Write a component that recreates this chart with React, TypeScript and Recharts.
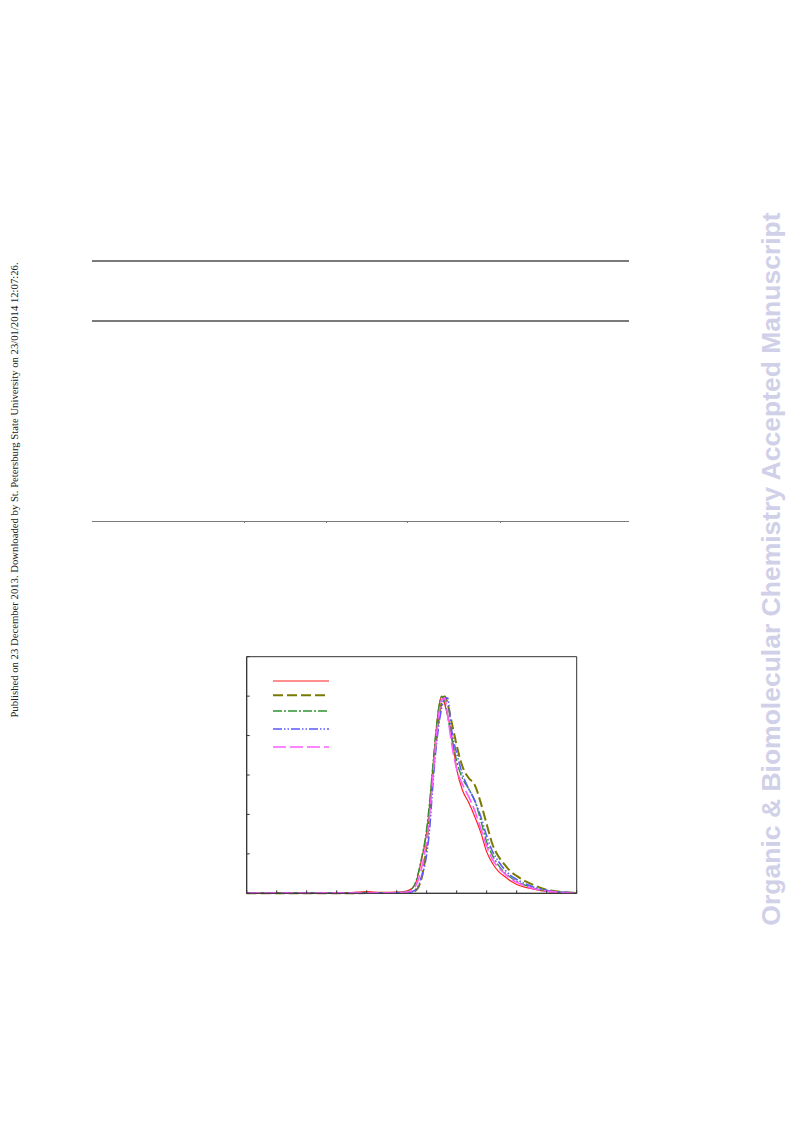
import React from "react";
import {
  LineChart, Line, XAxis, YAxis, ReferenceArea, Legend,
} from "recharts";

// elution volume grid (arbitrary units, axis labels were stripped in the scan)
const xs = [
  0, 0.5, 1, 1.5, 2, 2.5, 3, 3.5, 4, 4.5, 5,
  5.2, 5.4, 5.6, 5.8,
  6.0, 6.1, 6.2, 6.3, 6.4, 6.5, 6.6, 6.7, 6.8, 6.9, 7.0,
  7.2, 7.4, 7.6, 7.8, 8.0, 8.2, 8.4, 8.6, 8.8, 9.0,
  9.3, 9.6, 10, 10.5, 11,
];

const red = [
  0, 0, 0.002, 0, 0.002, 0, 0.003, 0.004, 0.008, 0.005, 0.006,
  0.008, 0.015, 0.04, 0.15,
  0.31, 0.44, 0.62, 0.8, 0.94, 0.998, 0.96, 0.9, 0.83, 0.73, 0.63,
  0.52, 0.46, 0.39, 0.31, 0.21, 0.15, 0.11, 0.085, 0.062, 0.045,
  0.03, 0.02, 0.01, 0.004, 0,
];

const olive = [
  0, 0, 0, 0, 0, 0, 0, 0, 0.001, 0.001, 0.002,
  0.002, 0.003, 0.01, 0.06,
  0.25, 0.43, 0.6, 0.75, 0.88, 0.97, 1.0, 0.96, 0.89, 0.82, 0.75,
  0.64, 0.585, 0.55, 0.46, 0.35, 0.245, 0.185, 0.145, 0.11, 0.088,
  0.06, 0.04, 0.018, 0.007, 0.002,
];

const green = [
  0.001, 0.002, 0.001, 0.001, 0.002, 0.001, 0.002, 0.002, 0.003, 0.003, 0.004,
  0.006, 0.012, 0.045, 0.16,
  0.33, 0.47, 0.64, 0.81, 0.94, 1.0, 0.97, 0.9, 0.81, 0.74, 0.67,
  0.58, 0.53, 0.47, 0.37, 0.26, 0.19, 0.14, 0.105, 0.08, 0.06,
  0.04, 0.025, 0.012, 0.005, 0.001,
];

const blue = [
  0, 0, 0, 0, 0, 0, 0, 0.001, 0.001, 0.002, 0.002,
  0.003, 0.004, 0.015, 0.07,
  0.2, 0.33, 0.54, 0.72, 0.85, 0.94, 0.99, 0.99, 0.86, 0.77, 0.71,
  0.6, 0.53, 0.47, 0.39, 0.29, 0.21, 0.16, 0.12, 0.09, 0.07,
  0.047, 0.03, 0.015, 0.006, 0.002,
];

const magenta = [
  0.001, 0.001, 0.002, 0.001, 0.001, 0.002, 0.002, 0.002, 0.002, 0.003, 0.003,
  0.005, 0.008, 0.03, 0.11,
  0.27, 0.4, 0.58, 0.76, 0.9, 0.98, 0.99, 0.9, 0.79, 0.7, 0.63,
  0.55, 0.49, 0.42, 0.33, 0.24, 0.17, 0.13, 0.1, 0.075, 0.056,
  0.037, 0.022, 0.011, 0.004, 0,
];

const xTicks = [0, 1, 2, 3, 4, 5, 6, 7, 8, 9, 10, 11];
const yTicks = [0, 0.2, 0.4, 0.6, 0.8, 1.0, 1.2];

const data = xs.map((x, i) => ({
  x,
  red: red[i],
  olive: olive[i],
  green: green[i],
  blue: blue[i],
  magenta: magenta[i],
}));

const series = [
  { key: "red", color: "#ff2020", width: 1.2, dash: undefined },
  { key: "olive", color: "#7a7a00", width: 2, dash: "10 4" },
  { key: "green", color: "#2f922f", width: 1.4, dash: "9 2 2 2" },
  { key: "blue", color: "#5a5aff", width: 1.6, dash: "9 2 1.5 2 1.5 2" },
  { key: "magenta", color: "#ff5cff", width: 1.6, dash: "13 4" },
];

// legend swatch rows (px from legend top)
const legendRows = [4, 18.3, 34, 52, 70];

function LegendSwatches() {
  return (
    <svg width={60} height={76}>
      {series.map((s, i) => (
        <line
          key={s.key}
          x1={0}
          x2={56}
          y1={legendRows[i]}
          y2={legendRows[i]}
          stroke={s.color}
          strokeWidth={s.width}
          strokeDasharray={s.dash}
        />
      ))}
    </svg>
  );
}

const noLabel = () => <g />;

const tableLine = (top: number): React.CSSProperties => ({
  position: "absolute",
  left: 92,
  top,
  width: 537,
  height: 1.5,
  background: "#7a7a7a",
});

export default function App() {
  return (
    <div
      style={{
        position: "absolute",
        left: 0,
        top: 0,
        width: 793,
        height: 1123,
        background: "#fff",
        overflow: "hidden",
      }}
    >
      {/* table rules */}
      <div style={tableLine(260)} />
      <div style={tableLine(320)} />
      <div style={tableLine(520.5)} />
      {[243.5, 325.5, 407, 500].map((x) => (
        <div
          key={x}
          style={{ position: "absolute", left: x, top: 521, width: 1, height: 2, background: "#7a7a7a" }}
        />
      ))}

      {/* side stamp */}
      <div
        style={{
          position: "absolute",
          left: 14 - 250,
          top: 490 - 7,
          width: 500,
          height: 14,
          lineHeight: "14px",
          textAlign: "center",
          transform: "rotate(-90deg)",
          fontFamily: "'Liberation Serif', 'Times New Roman', serif",
          fontSize: 10.7,
          color: "#222",
          whiteSpace: "nowrap",
        }}
      >
        Published on 23 December 2013. Downloaded by St. Petersburg State University on 23/01/2014 12:07:26.
      </div>

      {/* watermark */}
      <div
        style={{
          position: "absolute",
          left: 771 - 400,
          top: 569 - 18,
          width: 800,
          height: 36,
          lineHeight: "36px",
          textAlign: "center",
          transform: "rotate(-90deg)",
          fontFamily: "'Liberation Sans', Arial, sans-serif",
          fontWeight: "bold",
          fontSize: 26.5,
          color: "#d0d0e8",
          whiteSpace: "nowrap",
        }}
      >
        Organic &amp; Biomolecular Chemistry Accepted Manuscript
      </div>

      {/* chromatogram */}
      <div style={{ position: "absolute", left: 200, top: 620 }}>
        <LineChart
          width={420}
          height={320}
          data={data}
          margin={{ top: 36.7, right: 43.3, bottom: 46.7, left: 46.7 }}
        >
          <XAxis
            dataKey="x"
            type="number"
            domain={[0, 11]}
            ticks={xTicks}
            tick={noLabel}
            mirror
            tickSize={3}
            stroke="#333"
            axisLine={{ stroke: "#333" }}
            tickLine={{ stroke: "#333" }}
          />
          <YAxis
            type="number"
            domain={[0, 1.2]}
            ticks={yTicks}
            tick={noLabel}
            mirror
            tickSize={3}
            stroke="#333"
            axisLine={{ stroke: "#333" }}
            tickLine={{ stroke: "#333" }}
          />
          <ReferenceArea
            x1={0}
            x2={11}
            y1={0}
            y2={1.2}
            fill="none"
            fillOpacity={0}
            stroke="#333"
            strokeWidth={1}
            ifOverflow="visible"
          />
          <Legend
            layout="vertical"
            align="center"
            verticalAlign="middle"
            content={() => <LegendSwatches />}
            wrapperStyle={{ position: "absolute", left: 73, top: 57, width: 60, height: 76 }}
          />
          {series.map((s) => (
            <Line
              key={s.key}
              type="monotone"
              dataKey={s.key}
              stroke={s.color}
              strokeWidth={s.width}
              strokeDasharray={s.dash}
              dot={false}
              activeDot={false}
              isAnimationActive={false}
            />
          ))}
        </LineChart>
      </div>
    </div>
  );
}
